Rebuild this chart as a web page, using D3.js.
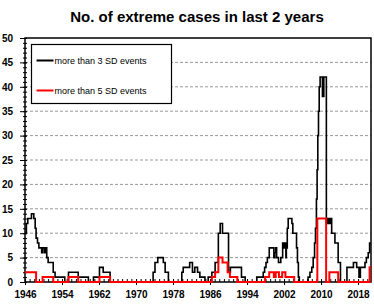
<!DOCTYPE html>
<html>
<head>
<meta charset="utf-8">
<script src="https://cdn.jsdelivr.net/npm/d3@7"></script>
<style>
  body { margin: 0; background: #fff; }
  svg { display: block; font-family: "Liberation Sans", Arial, sans-serif; }
</style>
</head>
<body>
<svg id="chart" width="374" height="308"></svg>
<script>
const chartTitle = "No. of extreme cases in last 2 years";
const seriesNames = ["more than 3 SD events", "more than 5 SD events"];
const seriesColors = ["#000", "#ff0000"];

// step series: year where a new value starts, and that value
const sd3Years = [
  1946.0, 1946.3, 1946.6, 1947.4, 1947.9, 1948.2, 1948.4, 1948.7, 1949.0, 1949.6, 1949.8, 1950.2, 1950.4, 1950.7, 1951.0, 1952.1, 1952.5, 1954.6,
  1955.4, 1957.5, 1959.7, 1960.8, 1962.1, 1962.9, 1964.4,
  1973.7, 1974.1, 1974.7, 1975.9, 1976.3, 1977.0,
  1979.9, 1980.2, 1981.6, 1982.2, 1982.7, 1983.3, 1983.8, 1984.9,
  1985.6, 1986.4, 1987.1, 1987.8, 1988.2, 1988.7, 1990.0, 1990.4, 1992.8, 1993.6,
  1996.1, 1997.5, 1997.8, 1998.1, 1998.4, 1998.8, 1999.8, 2000.0, 2000.2, 2000.4, 2000.8, 2001.3, 2001.7, 2001.9, 2002.2, 2002.4, 2002.5, 2002.7, 2002.9, 2003.7, 2003.9, 2004.7, 2004.9, 2005.1, 2005.3,
  2007.2, 2007.6, 2008.0, 2008.3, 2008.6, 2008.8, 2009.0, 2009.15, 2009.3, 2009.45, 2009.6, 2009.8, 2010.3, 2010.6, 2011.15, 2011.5, 2011.8, 2012.0, 2012.3, 2013.0, 2013.7, 2014.2,
  2015.6, 2017.0, 2017.7, 2018.2, 2018.5, 2019.5, 2019.8, 2020.2, 2020.5, 2020.8
];
const sd3Values = [
  10, 12, 13, 14, 13, 11, 9, 8, 7, 6, 7, 6, 7, 5, 4, 2, 1, 0,
  2, 1, 0, 1, 3, 2, 0,
  2, 4, 5, 4, 2, 0,
  2, 3, 4, 2, 3, 2, 1, 0,
  1, 2, 4, 10, 12, 10, 2, 3, 1, 0,
  1, 2, 3, 4, 5, 7, 5, 6, 7, 5, 4, 5, 8, 7, 8, 5, 7, 11, 13, 12, 10, 7, 4, 1, 0,
  1, 2, 3, 5, 8, 11, 17, 23, 30, 35, 40, 42, 38, 42, 12, 13, 12, 13, 10, 8, 4, 0,
  3, 4, 3, 1, 3, 4, 5, 6, 8, 8
];
const sd5Years = [
  1946.0, 1948.4, 1949.8, 1952.1, 1955.4, 1957.5, 1962.1, 1964.4,
  1986.4, 1987.1, 1987.8, 1988.7, 1989.8, 1990.3, 1991.9,
  1997.9, 1998.8, 1999.8, 2000.2, 2000.9, 2001.6, 2002.3, 2004.2,
  2009.2, 2011.1, 2011.8, 2013.7, 2020.5, 2020.8
];
const sd5Values = [
  2, 0, 1, 0, 1, 0, 1, 0,
  1, 2, 5, 4, 2, 1, 0,
  1, 2, 1, 2, 1, 2, 1, 0,
  13, 0, 2, 0, 3, 3
];

const yearTicks = [1946, 1954, 1962, 1970, 1978, 1986, 1994, 2002, 2010, 2018];
const valueTicks = [0, 5, 10, 15, 20, 25, 30, 35, 40, 45, 50];
const yearRange = [1946, 2020.8];

const svg = d3.select("#chart");
const margin = { top: 38, right: 3, bottom: 26, left: 25 };
const width = +svg.attr("width") - margin.left - margin.right;
const height = +svg.attr("height") - margin.top - margin.bottom;

const g = svg.append("g").attr("transform", `translate(${margin.left},${margin.top})`);

const xScale = d3.scaleLinear().domain(yearRange).range([0, width]);
const yScale = d3.scaleLinear().domain([0, 50]).range([height, 0]);

// title
svg.append("text")
  .attr("x", 197).attr("y", 22)
  .attr("text-anchor", "middle")
  .attr("font-size", "15px").attr("font-weight", "bold")
  .text(chartTitle);

// dashed gridlines
g.selectAll(".grid")
  .data(valueTicks.filter(v => v > 0 && v < 50))
  .enter().append("line")
  .attr("x1", 0).attr("x2", width)
  .attr("y1", d => yScale(d)).attr("y2", d => yScale(d))
  .attr("stroke", "#999").attr("stroke-dasharray", "3,2");

// minor y ticks, one per unit
g.append("g")
  .call(d3.axisLeft(yScale).tickValues(d3.range(0, 51)).tickSize(2).tickFormat(""))
  .call(a => a.select(".domain").remove())
  .call(a => a.selectAll(".tick line").attr("x2", 2).attr("x1", -2));

// major y ticks + labels
g.append("g")
  .call(d3.axisLeft(yScale).tickValues(valueTicks).tickSize(5).tickPadding(7))
  .call(a => a.select(".domain").remove())
  .call(a => a.selectAll(".tick line").attr("x1", 2))
  .call(a => a.selectAll("text").attr("font-size", "10px").attr("font-weight", "bold")
    .attr("font-family", "Liberation Sans, Arial, sans-serif").attr("fill", "#000"));

// minor x ticks, one per year
g.append("g")
  .attr("transform", `translate(0,${height})`)
  .call(d3.axisBottom(xScale).tickValues(d3.range(1946, 2021)).tickSize(-3).tickFormat(""))
  .call(a => a.select(".domain").remove());

// major x ticks + labels
g.append("g")
  .attr("transform", `translate(0,${height})`)
  .call(d3.axisBottom(xScale).tickValues(yearTicks).tickFormat(d3.format("d")).tickSize(3).tickPadding(6))
  .call(a => a.select(".domain").remove())
  .call(a => a.selectAll(".tick line").attr("y1", -3))
  .call(a => a.selectAll("text").attr("font-size", "10px").attr("font-weight", "bold")
    .attr("font-family", "Liberation Sans, Arial, sans-serif").attr("fill", "#000"));

// plot frame
g.append("rect")
  .attr("width", width).attr("height", height)
  .attr("fill", "none").attr("stroke", "#000").attr("stroke-width", 1.5);

g.append("clipPath").attr("id", "plotClip")
  .append("rect").attr("x", 0).attr("y", -3).attr("width", width).attr("height", height + 6);

const line = d3.line()
  .x(d => xScale(d[0]))
  .y(d => yScale(d[1]))
  .curve(d3.curveStepAfter);

const series = [d3.zip(sd3Years, sd3Values), d3.zip(sd5Years, sd5Values)];

g.selectAll(".series")
  .data(series)
  .enter().append("path")
  .attr("class", "series")
  .attr("clip-path", "url(#plotClip)")
  .attr("fill", "none")
  .attr("stroke", (d, i) => seriesColors[i])
  .attr("stroke-width", (d, i) => i === 0 ? 1.6 : 2)
  .attr("d", line);

// legend
const legend = svg.append("g").attr("transform", "translate(31.5,44.5)");
legend.append("rect")
  .attr("width", 140).attr("height", 59)
  .attr("fill", "#fff").attr("stroke", "#000").attr("stroke-width", 1.2);

const items = legend.selectAll(".item")
  .data(seriesNames)
  .enter().append("g")
  .attr("transform", (d, i) => `translate(0,${16 + i * 30})`);

items.append("line")
  .attr("x1", 5).attr("x2", 22)
  .attr("stroke", (d, i) => seriesColors[i])
  .attr("stroke-width", 2);

items.append("text")
  .attr("x", 23).attr("y", 3.3)
  .attr("font-size", "9px")
  .text(d => d);
</script>
</body>
</html>
